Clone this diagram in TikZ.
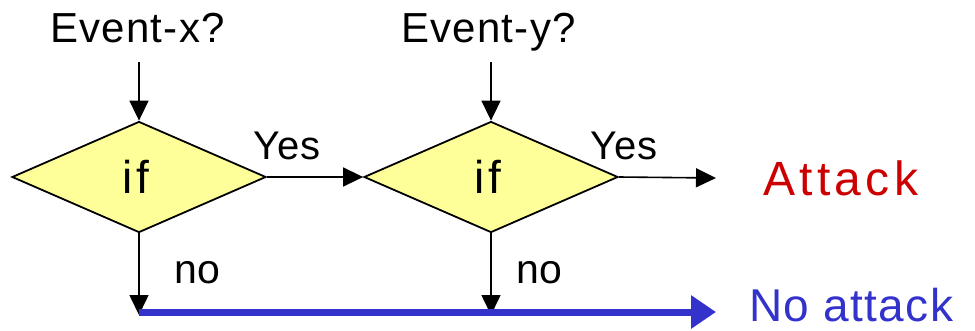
\documentclass[tikz,border=0pt]{standalone}
\usepackage{fontspec}
\setmainfont{Liberation Sans}
\usetikzlibrary{shapes.geometric,arrows.meta}
\definecolor{dyellow}{RGB}{255,255,153}
\definecolor{ared}{RGB}{204,0,0}
\definecolor{nblue}{RGB}{51,51,204}
\newcommand{\fs}[2]{\fontsize{#1}{#1}\selectfont\addfontfeatures{LetterSpace=#2}}
\begin{document}
\begin{tikzpicture}[x=1pt,y=-1pt,
  lbl/.style={inner sep=0pt, anchor=base west},
  dec/.style={shape=diamond, draw=black, line width=1.8pt, fill=dyellow, minimum width=254pt, minimum height=111pt, inner sep=0pt},
  arr/.style={line width=1.6pt, -{Triangle[length=20pt,width=19pt]}},
  barr/.style={nblue, line width=7pt, -{Triangle[length=25pt,width=32pt]}}]
\useasboundingbox (0,0) rectangle (975,330);
\node[lbl] (ex) at (50,42) {\fs{42}{3}Event-x?};
\node[lbl] (ey) at (401,42) {\fs{42}{3}Event-y?};
\node[dec] (d1) at (139,177) {};
\node[dec] (d2) at (491,177) {};
\node[lbl] (if1) at (122,193) {\fs{46}{8}if};
\node[lbl] (if2) at (474,193) {\fs{46}{8}if};
\node[lbl] (y1) at (253,159) {\fs{40}{2}Yes};
\node[lbl] (y2) at (590,159) {\fs{40}{2}Yes};
\node[lbl, text=ared] (att) at (763,195) {\fs{48}{9}Attack};
\node[lbl] (no1) at (174,283) {\fs{41}{2}no};
\node[lbl] (no2) at (516,283) {\fs{41}{2}no};
\node[lbl, text=nblue] (na) at (749,321) {\fs{46}{3}No attack};
\coordinate (t1) at (139,62);
\coordinate (t2) at (491,62);
\coordinate (ae) at (716,178);
\coordinate (n1) at (139,312);
\coordinate (n2) at (491,312);
\coordinate (n3) at (716,312);
\draw[arr] (t1) -- (d1.north);
\draw[arr] (t2) -- (d2.north);
\draw[arr] (d1.east) -- (d2.west);
\draw[arr] (d2.east) -- (ae);
\draw[arr] (d1.south) -- ([yshift=-3pt]n1);
\draw[arr] (d2.south) -- ([yshift=-3pt]n2);
\draw[barr] (n1) -- (n3);
\end{tikzpicture}
\end{document}
